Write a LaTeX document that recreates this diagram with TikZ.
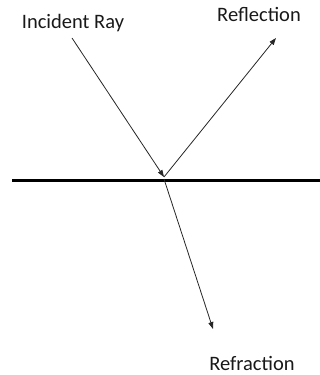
\documentclass[tikz,border=0pt]{standalone}
\usepackage{fontspec}
\setmainfont{Carlito}
\usepackage{tikz}
\usetikzlibrary{arrows.meta,positioning}

\begin{document}
\begin{tikzpicture}[x=1pt,y=1pt,
    ray/.style={black!85, line width=0.8pt, -{Triangle[length=7pt,width=5pt]}},
    label/.style={anchor=base, inner sep=0.5pt, font=\fontsize{20.5}{24}\selectfont, text=black!90}]

  \useasboundingbox (0,0) rectangle (320,375);

  % ----- superfície -----
  \coordinate (sl) at (12,194);
  \coordinate (sr) at (320,194);
  \draw[black, line width=3pt] (sl) -- (sr);

  % ----- pontos dos raios -----
  \coordinate (hit) at (164,198);
  \coordinate (src) at (72,337);
  \coordinate (refl) at (276,337);
  \coordinate (refr) at (213,46);

  \draw[ray] (src) -- (hit);
  \draw[ray] (hit) -- (refl);
  \draw[ray] ([yshift=-2pt]hit) -- (refr);

  % ----- rótulos -----
  \node[label] (inc) at (73,346)  {Incident Ray};
  \node[label] (rfl) at (259,353) {Reflection};
  \node[label] (rfr) at (252,5)   {Refraction};

\end{tikzpicture}
\end{document}
